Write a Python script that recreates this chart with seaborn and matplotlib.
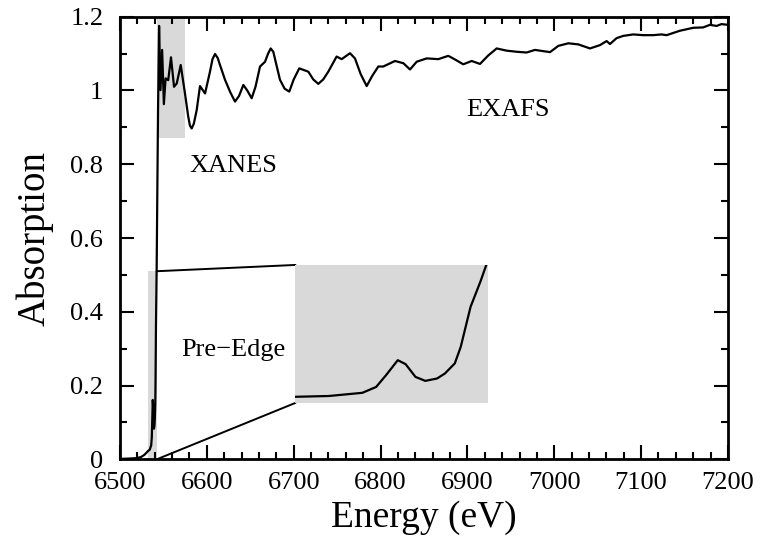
import numpy as np
import pandas as pd
import seaborn as sns
import matplotlib.pyplot as plt
from matplotlib.patches import Rectangle
from matplotlib.ticker import MultipleLocator, FormatStrFormatter

# Absorption spectrum (energy in eV)
energy = [
    6500.0, 6510.0, 6518.0, 6524.0, 6528.0, 6530.5,
    6532.5, 6534.2, 6535.9, 6536.6, 6537.1, 6537.7, 6538.1, 6538.6, 6539.1,
    6539.7, 6540.1, 6540.6, 6540.9, 6541.4, 6541.9, 6542.2,
    6543.8, 6545.0, 6546.6, 6548.5, 6550.5, 6552.5, 6555.5, 6558.7, 6562.2,
    6565.3, 6569.9, 6574.8, 6578.5, 6580.5, 6582.5, 6585.0, 6588.3, 6592.1,
    6597.9, 6603.5, 6606.5, 6609.4, 6612.5, 6615.0, 6620.9, 6627.0, 6632.4,
    6637.0, 6642.0, 6646.5, 6651.6, 6656.0, 6661.2, 6667.0, 6670.5, 6673.5,
    6676.5, 6679.0, 6684.2, 6689.5, 6694.9, 6700.0, 6706.4, 6716.8, 6722.5,
    6728.3, 6734.0, 6739.8, 6749.4, 6755.2, 6764.8, 6770.5, 6777.0, 6784.0,
    6790.5, 6797.4, 6803.1, 6816.6, 6826.2, 6833.9, 6841.6, 6853.1, 6866.5,
    6878.0, 6886.5, 6895.2, 6904.9, 6914.5, 6924.0, 6933.7, 6945.2, 6956.7,
    6968.2, 6977.8, 6995.1, 7004.7, 7016.2, 7027.7, 7041.1, 7052.6, 7060.3,
    7064.1, 7071.8, 7079.4, 7090.9, 7102.4, 7113.9, 7123.5, 7129.3, 7144.7,
    7160.0, 7171.5, 7179.2, 7186.9, 7192.6, 7200.0,
]
absorption = [
    0.001, 0.002, 0.003, 0.006, 0.012, 0.018,
    0.023, 0.026, 0.038, 0.060, 0.104, 0.161, 0.146, 0.098, 0.083,
    0.092, 0.111, 0.149, 0.211, 0.362, 0.457, 0.520,
    0.950, 1.175, 1.001, 1.110, 0.963, 1.033, 1.028, 1.090, 1.010,
    1.019, 1.069, 0.992, 0.930, 0.905, 0.897, 0.910, 0.947, 1.012,
    0.992, 1.050, 1.085, 1.099, 1.088, 1.070, 1.029, 0.995, 0.970,
    0.985, 1.015, 1.000, 0.979, 1.010, 1.065, 1.078, 1.100, 1.114,
    1.105, 1.080, 1.029, 1.005, 0.997, 1.030, 1.060, 1.051, 1.030,
    1.018, 1.030, 1.051, 1.092, 1.085, 1.101, 1.087, 1.045, 1.012,
    1.040, 1.065, 1.065, 1.080, 1.074, 1.057, 1.078, 1.087, 1.085,
    1.094, 1.083, 1.071, 1.080, 1.072, 1.095, 1.114, 1.108, 1.105,
    1.103, 1.110, 1.104, 1.121, 1.128, 1.125, 1.114, 1.123, 1.134,
    1.126, 1.142, 1.148, 1.152, 1.150, 1.150, 1.152, 1.150, 1.162,
    1.170, 1.171, 1.178, 1.175, 1.180, 1.178,
]
spectrum = pd.DataFrame({"Energy": energy, "Absorption": absorption})

# Shaded regions (x0, x1, y0, y1) and inset placement in data units
xanes_box = (6543.0, 6575.0, 0.87, 1.2)
pre_edge_box = (6532.5, 6542.3, 0.0, 0.51)
inset_box = (6702.0, 6924.0, 0.153, 0.527)
shade = "#d9d9d9"

sns.set_style("ticks")
plt.rcParams["font.family"] = ["Liberation Serif", "DejaVu Serif"]
plt.rcParams.update({
    "text.color": "black", "axes.labelcolor": "black", "axes.edgecolor": "black",
    "xtick.color": "black", "ytick.color": "black",
})

fig = plt.figure(figsize=(7.61, 5.43), dpi=100)
ax = fig.add_axes([0.1577, 0.1541, 0.7989, 0.8151])

for x0, x1, y0, y1 in (xanes_box, pre_edge_box):
    ax.add_patch(Rectangle((x0, y0), x1 - x0, y1 - y0, facecolor=shade,
                           edgecolor="none", zorder=0))

sns.lineplot(data=spectrum, x="Energy", y="Absorption", estimator=None,
             color="black", linewidth=1.6, ax=ax, zorder=2)

# Connectors from the pre-edge box to the inset
ax.plot([pre_edge_box[1], inset_box[0]], [pre_edge_box[3], inset_box[3]],
        color="black", linewidth=1.4, zorder=3)
ax.plot([pre_edge_box[1], inset_box[0]], [pre_edge_box[2], inset_box[2]],
        color="black", linewidth=1.4, zorder=3)

axins = ax.inset_axes([inset_box[0], inset_box[2], inset_box[1] - inset_box[0],
                       inset_box[3] - inset_box[2]], transform=ax.transData)
axins.set_facecolor(shade)
sns.lineplot(data=spectrum, x="Energy", y="Absorption", estimator=None,
             color="black", linewidth=1.6, ax=axins)
axins.set_xlim(pre_edge_box[0], pre_edge_box[1])
axins.set_ylim(0, 0.52)
axins.set_xticks([])
axins.set_yticks([])
axins.set_xlabel("")
axins.set_ylabel("")
for spine in axins.spines.values():
    spine.set_visible(False)

ax.text(6630, 0.796, "XANES", fontsize=19, ha="center", va="center")
ax.text(6947, 0.947, "EXAFS", fontsize=19, ha="center", va="center")
ax.text(6630, 0.296, "Pre\u2212Edge", fontsize=19, ha="center", va="center")

ax.set_xlim(6500, 7200)
ax.set_ylim(0, 1.2)
ax.xaxis.set_major_locator(MultipleLocator(100))
ax.xaxis.set_minor_locator(MultipleLocator(20))
ax.yaxis.set_major_locator(MultipleLocator(0.2))
ax.yaxis.set_minor_locator(MultipleLocator(0.1))
ax.yaxis.set_major_formatter(FormatStrFormatter("%g"))
ax.tick_params(which="both", direction="in", top=True, right=True, width=1.5)
ax.tick_params(which="major", length=10)
ax.tick_params(which="minor", length=5)
ax.tick_params(axis="x", labelsize=19, pad=9)
ax.tick_params(axis="y", labelsize=19, pad=12)
for spine in ax.spines.values():
    spine.set_linewidth(2)
    spine.set_visible(True)

ax.set_xlabel("Energy (eV)", fontsize=27, labelpad=5)
ax.set_ylabel("Absorption", fontsize=28, labelpad=12)

fig.savefig("out.png", dpi=100)
